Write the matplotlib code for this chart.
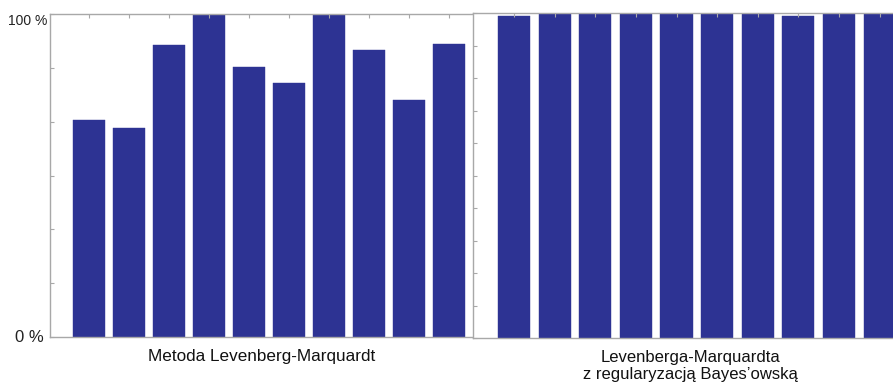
import matplotlib
matplotlib.use("Agg")
import matplotlib.pyplot as plt
import numpy as np

plt.rcParams['font.family'] = ['Liberation Sans', 'DejaVu Sans']

runs = list(range(1, 11))
lm_values = [67.2, 64.7, 90.4, 99.7, 83.6, 78.6, 99.7, 88.9, 73.4, 90.7]
br_values = [99.2, 99.6, 99.6, 99.6, 99.6, 99.6, 99.6, 99.2, 99.6, 99.6]
y_labels = ["0 %", "100 %"]
titles = ["Metoda Levenberg-Marquardt", "Levenberga-Marquardta\nz regularyzacją Bayes\u2019owską"]

W, H = 893, 385
fig = plt.figure(figsize=(W / 100, H / 100), dpi=100)

bar_color = '#2D3393'
spine_color = '#A8A8A8'

def add_ax(x0, x1, ytop, ybot):
    return fig.add_axes([x0 / W, (H - ybot) / H, (x1 - x0) / W, (ybot - ytop) / H])

ax1 = add_ax(50, 473, 14, 337)
ax2 = add_ax(473, 904, 13, 338)

for ax, vals, xl, nt in [(ax1, lm_values, (0.02, 10.6), 6), (ax2, br_values, (-0.01, 10.6), 10)]:
    ax.bar(runs, vals, width=0.79, color=bar_color, edgecolor=bar_color, linewidth=0.3)
    ax.set_xlim(*xl)
    ax.set_ylim(0, 100)
    ax.set_yticks(np.linspace(0, 100, nt + 1))
    ax.set_yticklabels([])
    ax.set_xticks(runs)
    ax.set_xticklabels([])
    ax.tick_params(axis='y', direction='in', length=3, color=spine_color, width=0.8, left=True, right=False)
    ax.tick_params(axis='x', direction='in', length=3, color=spine_color, width=0.8, top=True, bottom=False)
    for s in ax.spines.values():
        s.set_color(spine_color)
        s.set_linewidth(1.0)
    ax.spines['right'].set_visible(False)

fig.text(47 / W, 1 - 21 / H, y_labels[1], ha='right', va='center', fontsize=10, color='#222222')
fig.text(44 / W, 1 - 337 / H, y_labels[0], ha='right', va='center', fontsize=12, color='#222222')
fig.text(262 / W, 1 - 357 / H, titles[0], ha='center', va='center', fontsize=12.3, color='#111111')
fig.text(690 / W, 1 - 366 / H, titles[1], ha='center', va='center', fontsize=12, color='#111111', linespacing=1.12)

fig.savefig('out.png', dpi=100)
